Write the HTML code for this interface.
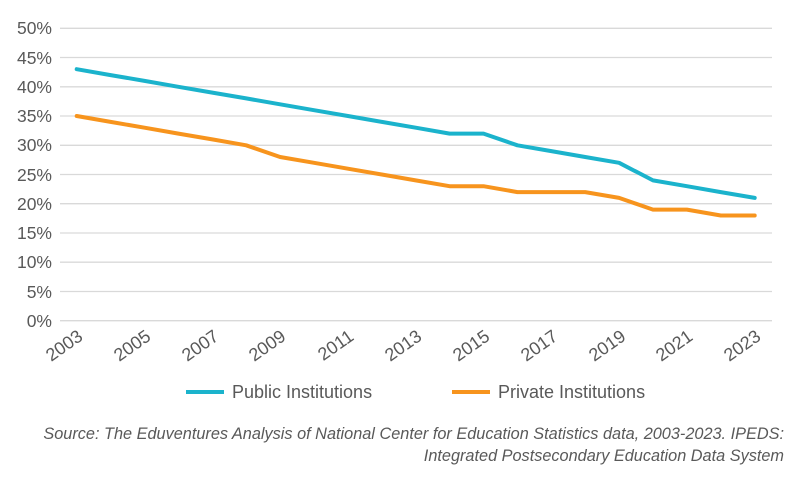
<!DOCTYPE html>
<html><head><meta charset="utf-8"><style>
body{margin:0;background:#fff;width:793px;height:478px;overflow:hidden}
svg{display:block;font-family:"Liberation Sans",Arial,sans-serif}
</style></head><body>
<svg width="793" height="478" viewBox="0 0 793 478">
<g stroke="#d9d9d9" stroke-width="1.3">
<line x1="60" x2="772" y1="28.3" y2="28.3"/><line x1="60" x2="772" y1="57.5" y2="57.5"/>
<line x1="60" x2="772" y1="86.8" y2="86.8"/><line x1="60" x2="772" y1="116" y2="116"/>
<line x1="60" x2="772" y1="145.3" y2="145.3"/><line x1="60" x2="772" y1="174.5" y2="174.5"/>
<line x1="60" x2="772" y1="203.7" y2="203.7"/><line x1="60" x2="772" y1="233" y2="233"/>
<line x1="60" x2="772" y1="262.2" y2="262.2"/><line x1="60" x2="772" y1="291.5" y2="291.5"/>
<line x1="60" x2="772" y1="320.7" y2="320.7"/>
</g>
<g fill="#595959" font-size="17.5" text-anchor="end">
<text x="52" y="34">50%</text><text x="52" y="64">45%</text><text x="52" y="93">40%</text>
<text x="52" y="122">35%</text><text x="52" y="151">30%</text><text x="52" y="181">25%</text>
<text x="52" y="210">20%</text><text x="52" y="239">15%</text><text x="52" y="268">10%</text>
<text x="52" y="298">5%</text><text x="52" y="327">0%</text>
</g>
<g fill="#595959" font-size="18" text-anchor="end">
<text transform="translate(84,339) rotate(-35)">2003</text>
<text transform="translate(152,339) rotate(-35)">2005</text>
<text transform="translate(220,339) rotate(-35)">2007</text>
<text transform="translate(287,339) rotate(-35)">2009</text>
<text transform="translate(355,339) rotate(-35)">2011</text>
<text transform="translate(423,339) rotate(-35)">2013</text>
<text transform="translate(491,339) rotate(-35)">2015</text>
<text transform="translate(559,339) rotate(-35)">2017</text>
<text transform="translate(627,339) rotate(-35)">2019</text>
<text transform="translate(694,339) rotate(-35)">2021</text>
<text transform="translate(762,339) rotate(-35)">2023</text>
</g>
<polyline fill="none" stroke="#1bb3cc" stroke-width="4" stroke-linejoin="round" stroke-linecap="round"
points="76.7,69.2 110.6,75.1 144.5,80.9 178.4,86.8 212.3,92.6 246.2,98.4 280.1,104.3 314,110.2 347.9,116 381.8,121.9 415.7,127.7 449.6,133.6 483.5,133.6 517.4,145.3 551.3,151.1 585.2,157 619.1,162.8 653,180.4 686.9,186.2 720.8,192.1 754.7,197.9"/>
<polyline fill="none" stroke="#f7941d" stroke-width="4" stroke-linejoin="round" stroke-linecap="round"
points="76.7,116 110.6,121.9 144.5,127.7 178.4,133.6 212.3,139.4 246.2,145.3 280.1,157 314,162.8 347.9,168.7 381.8,174.5 415.7,180.4 449.6,186.2 483.5,186.2 517.4,192.1 551.3,192.1 585.2,192.1 619.1,197.9 653,209.6 686.9,209.6 720.8,215.5 754.7,215.5"/>
<line x1="186" x2="224" y1="392" y2="392" stroke="#1bb3cc" stroke-width="4"/>
<text x="232" y="398" font-size="18" fill="#595959">Public Institutions</text>
<line x1="452" x2="490" y1="392" y2="392" stroke="#f7941d" stroke-width="4"/>
<text x="498" y="398" font-size="18" fill="#595959">Private Institutions</text>
<g font-size="16.3" font-style="italic" fill="#595959" text-anchor="end">
<text x="784" y="439">Source: The Eduventures Analysis of National Center for Education Statistics data, 2003-2023. IPEDS:</text>
<text x="784" y="461">Integrated Postsecondary Education Data System</text>
</g>
</svg>
</body></html>
